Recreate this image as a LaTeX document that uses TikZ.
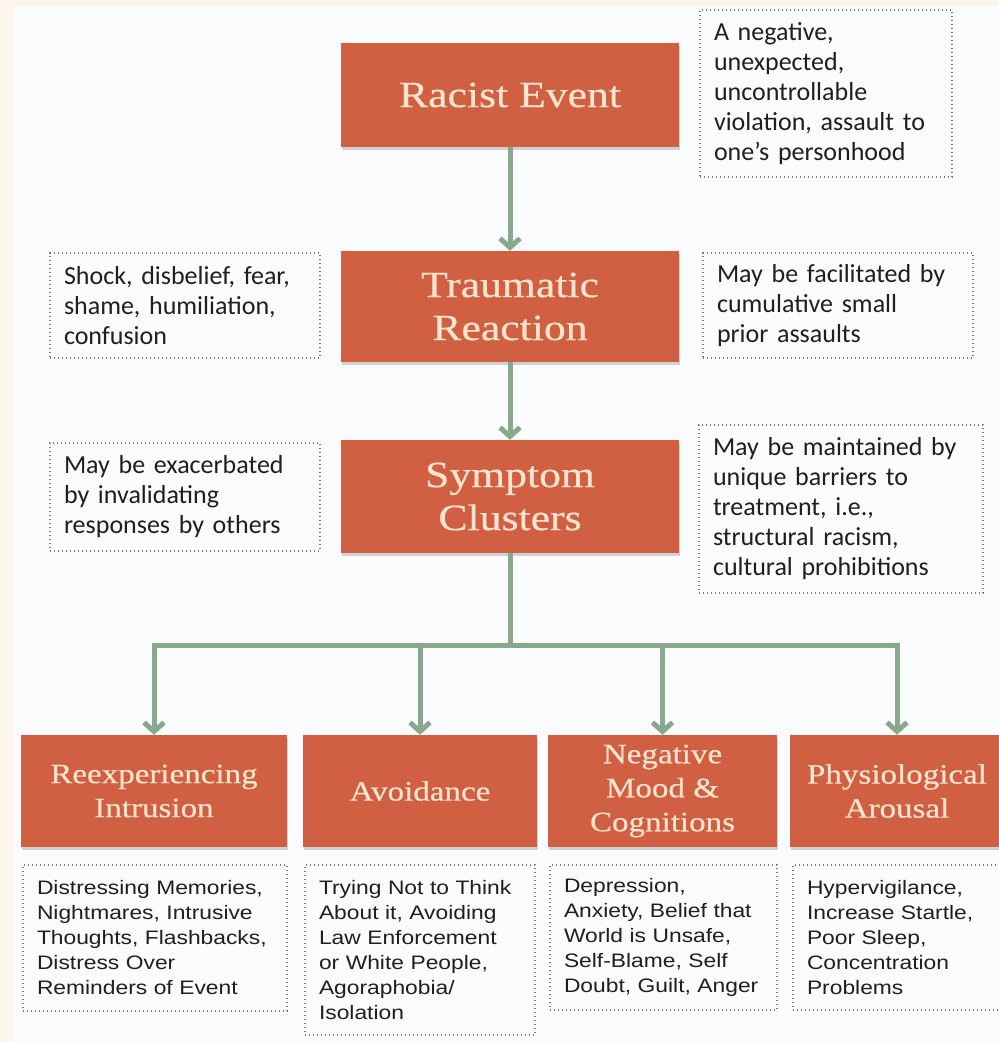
\documentclass[tikz,border=0pt]{standalone}
\usepackage{fontspec}
\usetikzlibrary{arrows.meta}
\usetikzlibrary{shadows}

\newfontfamily\stagefont[FakeStretch=1.18,FakeBold=0.4]{Liberation Serif}
\newfontfamily\remfont{Carlito}
\newfontfamily\listfont[FakeStretch=1.17]{Liberation Sans}

\definecolor{pagecream}{RGB}{253,245,234}
\definecolor{panelwhite}{RGB}{250,251,253}
\definecolor{stagered}{RGB}{209,96,66}
\definecolor{stagetext}{RGB}{252,229,208}
\definecolor{linkgreen}{RGB}{135,168,138}
\definecolor{dotgray}{RGB}{120,120,120}
\definecolor{remtext}{RGB}{35,30,30}

\tikzset{
    stage/.style={fill=stagered, text=stagetext, align=center, inner sep=0pt,
        drop shadow={shadow xshift=1pt, shadow yshift=-3pt, opacity=.35}},
    topstage/.style={stage, minimum width=338pt, font=\stagefont\fontsize{37}{43}\selectfont},
    lowstage/.style={stage, minimum height=112pt, font=\stagefont\fontsize{28}{34}\selectfont},
    remark/.style={draw=dotgray, line width=1.2pt, dash pattern=on 1.4pt off 2.6pt,
        align=left, inner xsep=14pt, inner ysep=0pt, text=remtext},
    toprem/.style={remark, font=\remfont\fontsize{26}{30}\selectfont},
    lowrem/.style={remark, font=\listfont\fontsize{19.5}{25}\selectfont},
    link/.style={draw=linkgreen, line width=5pt},
    linkarrow/.style={link, -{Straight Barb[length=9pt,width=20pt]}},
}

\begin{document}
\begin{tikzpicture}[x=1pt, y=-1pt]
    % page and panel
    \useasboundingbox (0,0) rectangle (999,1042);
    \clip (0,0) rectangle (999,1042);
    \fill [pagecream] (0,0) rectangle (999,1042);
    \fill [panelwhite] (13,6) rectangle (999,1042);

    % main chain
    \node [topstage, minimum height=104pt] (racist) at (510,95) {Racist Event};
    \node [topstage, minimum height=111pt] (trauma) at (510,306.5) {Traumatic\\Reaction};
    \node [topstage, minimum height=113pt] (symptom) at (510,496.5) {Symptom\\Clusters};

    % side remarks
    \node [toprem, text width=224pt, minimum height=167pt] (violation) at (826,93.5)
        {A negative,\\unexpected,\\uncontrollable\\violation, assault to\\one’s personhood};
    \node [toprem, text width=242pt, minimum height=105pt] (shock) at (185,305.5)
        {Shock, disbelief, fear,\\shame, humiliation,\\confusion};
    \node [toprem, text width=242pt, minimum height=105pt] (cumulative) at (838,305.5)
        {May be facilitated by\\cumulative small\\prior assaults};
    \node [toprem, text width=242pt, minimum height=108pt] (invalid) at (185,497)
        {May be exacerbated\\by invalidating\\responses by others};
    \node [toprem, text width=256pt, minimum height=168pt] (barriers) at (841,509)
        {May be maintained by\\unique barriers to\\treatment, i.e.,\\structural racism,\\cultural prohibitions};

    % the four clusters
    \node [lowstage, minimum width=266pt] (reexp) at (154,791) {Reexperiencing\\Intrusion};
    \node [lowstage, minimum width=234pt] (avoid) at (420,791) {Avoidance};
    \node [lowstage, minimum width=229pt] (negmood) at (662.5,791) {Negative\\Mood \&\\Cognitions};
    \node [lowstage, minimum width=214pt] (physio) at (897,791) {Physiological\\Arousal};

    % what each cluster holds
    \node [lowrem, text width=236pt, minimum height=146pt] (reexplist) at (155,938)
        {Distressing Memories,\\Nightmares, Intrusive\\Thoughts, Flashbacks,\\Distress Over\\Reminders of Event};
    \node [lowrem, text width=202pt, minimum height=170pt] (avoidlist) at (420,950)
        {Trying Not to Think\\About it, Avoiding\\Law Enforcement\\or White People,\\Agoraphobia/\\Isolation};
    \node [lowrem, text width=199pt, minimum height=145pt] (moodlist) at (663.5,937.5)
        {Depression,\\Anxiety, Belief that\\World is Unsafe,\\Self-Blame, Self\\Doubt, Guilt, Anger};
    \node [lowrem, text width=189pt, minimum height=145pt] (physiolist) at (901.5,937.5)
        {Hypervigilance,\\Increase Startle,\\Poor Sleep,\\Concentration\\Problems};

    % connectors
    \draw [linkarrow] (racist.south) -- (trauma.north);
    \draw [linkarrow] (trauma.south) -- (symptom.north);
    \coordinate (hub) at (510,645);
    \draw [link] (symptom.south) -- (hub);
    \foreach \b in {reexp,avoid,negmood,physio}{
        \draw [linkarrow] (hub) -| (\b.north);
    }
\end{tikzpicture}
\end{document}
